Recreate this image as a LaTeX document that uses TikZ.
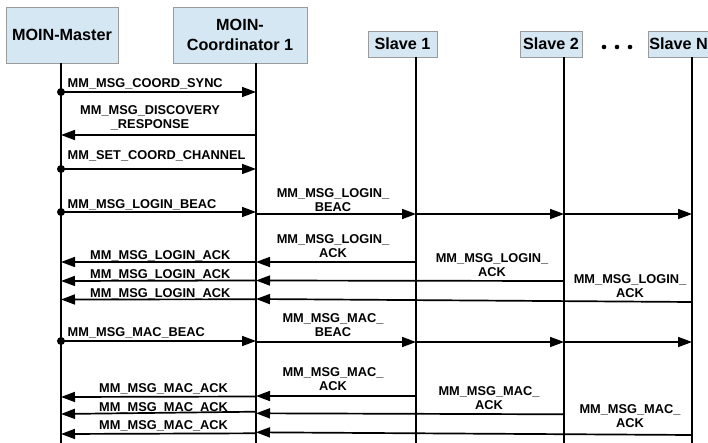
\documentclass[tikz,border=0pt]{standalone}
\usepackage{fontspec}
\setmainfont{Liberation Sans}
\usetikzlibrary{arrows.meta}
\definecolor{boxfill}{RGB}{213,231,243}
\definecolor{boxline}{RGB}{155,155,155}
\tikzset{
  actor/.style={draw=boxline, line width=0.8pt, fill=boxfill, font=\fontsize{16.2}{20}\selectfont\bfseries, align=center, inner sep=0pt},
  life/.style={line width=2pt},
  msg/.style={line width=1.7pt, -{Triangle[length=14pt,width=10pt]}},
  lbl/.style={font=\fontsize{12.8}{14}\selectfont\bfseries, inner sep=0pt, align=center},
  startdot/.style={fill, circle, inner sep=0pt, minimum size=8pt},
}
\begin{document}
\begin{tikzpicture}[x=1pt,y=-1pt]
\clip (0,0) rectangle (708,443);
\fill[white] (0,0) rectangle (708,443);
% actors
\node[actor, minimum width=112pt, minimum height=56pt] (master) at (62,35) {MOIN-Master};
\node[actor, minimum width=134pt, minimum height=56pt] (coord) at (240,35) {MOIN-\\Coordinator 1};
\node[actor, minimum width=69pt, minimum height=26pt] (s1) at (402.5,44) {Slave 1};
\node[actor, minimum width=62pt, minimum height=26pt] (s2) at (551,44) {Slave 2};
\node[actor, minimum height=26pt, anchor=west, inner xsep=1.5pt] (sN) at (647.5,44) {Slave N};
\fill (604,47) circle (2.3pt) (617,47) circle (2.3pt) (630,47) circle (2.3pt);
% lifelines
\coordinate (mT) at (61,63);   \coordinate (mB) at (61,443);
\coordinate (cT) at (256,63);  \coordinate (cB) at (256,443);
\coordinate (aT) at (416,57);  \coordinate (aB) at (416,443);
\coordinate (bT) at (564,57);  \coordinate (bB) at (564,443);
\coordinate (nT) at (692,57);  \coordinate (nB) at (692,443);
\draw[life] (mT) -- (mB);
\draw[life] (cT) -- (cB);
\draw[life] (aT) -- (aB);
\draw[life] (bT) -- (bB);
\draw[life] (nT) -- (nB);
% setup messages
\draw[msg] (mT |- 0,92) -- (cT |- 0,92);
\node[startdot] (d1) at (mT |- 0,92) {};
\node[lbl, anchor=base west] (l1) at (67.5,87.5) {MM\_MSG\_COORD\_SYNC};
\draw[msg] (cT |- 0,135) -- (mT |- 0,135);
\node[lbl, anchor=south] (l2) at (150,130) {MM\_MSG\_DISCOVERY\\\_RESPONSE};
\draw[msg] (mT |- 0,169) -- (cT |- 0,169);
\node[startdot] (d2) at (mT |- 0,169) {};
\node[lbl, anchor=base west] (l3) at (67.5,160) {MM\_SET\_COORD\_CHANNEL};
% login beacon
\draw[msg] (mT |- 0,212) -- (cT |- 0,212);
\node[startdot] (d3) at (mT |- 0,212) {};
\node[lbl, anchor=base west] (l4) at (67.5,208.5) {MM\_MSG\_LOGIN\_BEAC};
\draw[msg] (cT |- 0,214) -- (aT |- 0,214);
\draw[msg] (aT |- 0,214) -- (bT |- 0,214);
\draw[msg] (bT |- 0,214) -- (nT |- 0,214);
\node[lbl, anchor=south] (l5) at (333,212) {MM\_MSG\_LOGIN\_\\BEAC};
% login acks
\draw[msg] (aT |- 0,262) -- (cT |- 0,262);
\node[lbl, anchor=south] (l6) at (333,258) {MM\_MSG\_LOGIN\_\\ACK};
\draw[msg] (bT |- 0,281) -- (cT |- 0,280.5);
\node[lbl, anchor=south] (l7) at (492,276.7) {MM\_MSG\_LOGIN\_\\ACK};
\draw[msg] (nT |- 0,302) -- (cT |- 0,299);
\node[lbl, anchor=south] (l8) at (630,298) {MM\_MSG\_LOGIN\_\\ACK};
\draw[msg] (cT |- 0,262) -- (mT |- 0,262);
\node[lbl, anchor=base west] (l9) at (90,259.5) {MM\_MSG\_LOGIN\_ACK};
\draw[msg] (cT |- 0,280.5) -- (mT |- 0,281);
\node[lbl, anchor=base west] (l10) at (90,278.5) {MM\_MSG\_LOGIN\_ACK};
\draw[msg] (cT |- 0,299.3) -- (mT |- 0,299.5);
\node[lbl, anchor=base west] (l11) at (90,297) {MM\_MSG\_LOGIN\_ACK};
% mac beacon
\draw[msg] (mT |- 0,341) -- (cT |- 0,341);
\node[startdot] (d4) at (mT |- 0,341) {};
\node[lbl, anchor=base west] (l12) at (67.5,336) {MM\_MSG\_MAC\_BEAC};
\draw[msg] (cT |- 0,342) -- (aT |- 0,342);
\draw[msg] (aT |- 0,342) -- (bT |- 0,342);
\draw[msg] (bT |- 0,342) -- (nT |- 0,342);
\node[lbl, anchor=south] (l13) at (333,337) {MM\_MSG\_MAC\_\\BEAC};
% mac acks
\draw[msg] (aT |- 0,396) -- (cT |- 0,396);
\node[lbl, anchor=south] (l14) at (333,391) {MM\_MSG\_MAC\_\\ACK};
\draw[msg] (bT |- 0,414.3) -- (cT |- 0,413.3);
\node[lbl, anchor=south] (l15) at (489,410) {MM\_MSG\_MAC\_\\ACK};
\draw[msg] (nT |- 0,435) -- (cT |- 0,432.3);
\node[lbl, anchor=south] (l16) at (630,428.3) {MM\_MSG\_MAC\_\\ACK};
\draw[msg] (cT |- 0,396.5) -- (mT |- 0,397);
\node[lbl, anchor=base west] (l17) at (99,392.3) {MM\_MSG\_MAC\_ACK};
\draw[msg] (cT |- 0,411.7) -- (mT |- 0,414);
\node[lbl, anchor=base west] (l18) at (99,411.5) {MM\_MSG\_MAC\_ACK};
\draw[msg] (cT |- 0,433.3) -- (mT |- 0,434);
\node[lbl, anchor=base west] (l19) at (99,429.3) {MM\_MSG\_MAC\_ACK};
\end{tikzpicture}
\end{document}
